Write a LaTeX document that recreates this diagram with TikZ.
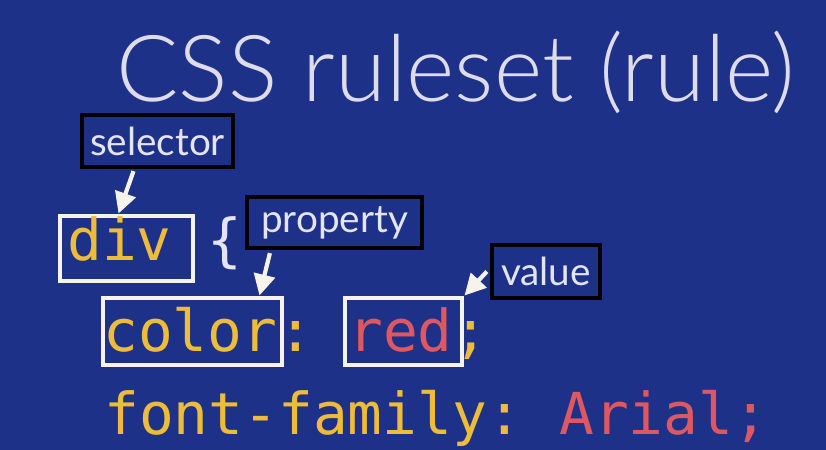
\documentclass[tikz,border=0pt]{standalone}
\usepackage{fontspec}
\setmainfont{Lato}
\newfontfamily\codefont{DejaVu Sans Mono}
\newfontfamily\titlefont{Lato Light}
\usepackage{tikz}
\usetikzlibrary{calc,arrows.meta}

\definecolor{slidebg}{RGB}{30,49,137}
\definecolor{titlegrey}{RGB}{222,219,234}
\definecolor{codeyellow}{RGB}{236,188,58}
\definecolor{codered}{RGB}{222,88,98}
\definecolor{boxwhite}{RGB}{246,243,234}
\definecolor{tagtext}{RGB}{228,228,244}

\tikzset{
  codetext/.style={anchor=base west, inner sep=0pt, font=\codefont\fontsize{32.9}{36}\selectfont},
  codebox/.style={draw=boxwhite, line width=2.8pt, rectangle, inner sep=0pt},
  tagbox/.style={draw=black, line width=2.4pt, fill=slidebg, text=tagtext, inner sep=0pt,
    font=\fontsize{22}{24}\selectfont},
  pointer/.style={draw=boxwhite, line width=2.4pt, -{Triangle[length=12pt,width=12pt]}}
}

\begin{document}
\begin{tikzpicture}[x=0.02cm,y=-0.02cm]

\fill[slidebg] (0,0) rectangle (826,450);
\useasboundingbox (0,0) rectangle (826,450);

\node[anchor=base west, inner sep=0pt, text=titlegrey, font=\titlefont\fontsize{52.6}{58}\selectfont] (title) at (116,101) {CSS ruleset (rule)};

\node[codebox, minimum width=133*0.02cm, minimum height=65*0.02cm] (divbox) at (126.5,248.5) {};
\node[codebox, minimum width=179*0.02cm, minimum height=67*0.02cm] (colorbox) at (192.5,331.5) {};
\node[codebox, minimum width=117*0.02cm, minimum height=67*0.02cm] (redbox) at (403.5,331.5) {};

\node[codetext, text=codeyellow] (divtxt) at (67,260) {div};
\node[codetext, text=tagtext] (brace) at (207,260) {\{};

\node[codetext, text=codeyellow] (colortxt) at (103,351) {color};
\node[codetext, text=codeyellow] (colon) at (278,351) {:};
\node[codetext, text=codered] (redtxt) at (348,351) {red};
\node[codetext, text=codeyellow] (semi) at (453,351) {;};

\node[codetext, text=codeyellow] (ffprop) at (104,434) {font-family:};
\node[codetext, text=codered] (ffval) at (559,434) {Arial;};

\node[tagbox, minimum width=151*0.02cm, minimum height=52*0.02cm] (selector) at (157.5,141) {selector};
\node[tagbox, minimum width=175*0.02cm, minimum height=51*0.02cm] (property) at (334.5,222.5) {property};
\node[tagbox, minimum width=108*0.02cm, minimum height=53*0.02cm] (value) at (546,271.5) {value};

\draw[pointer] ($(selector.south)+(-24,2)$) -- ($(divbox.north)+(-8,0)$);
\draw[pointer] ($(property.south west)+(25,3)$) -- ($(colorbox.north east)+(-25,0)$);
\draw[pointer] ($(value.west)+(-3,0)$) -- (redbox.north east);

\end{tikzpicture}
\end{document}
